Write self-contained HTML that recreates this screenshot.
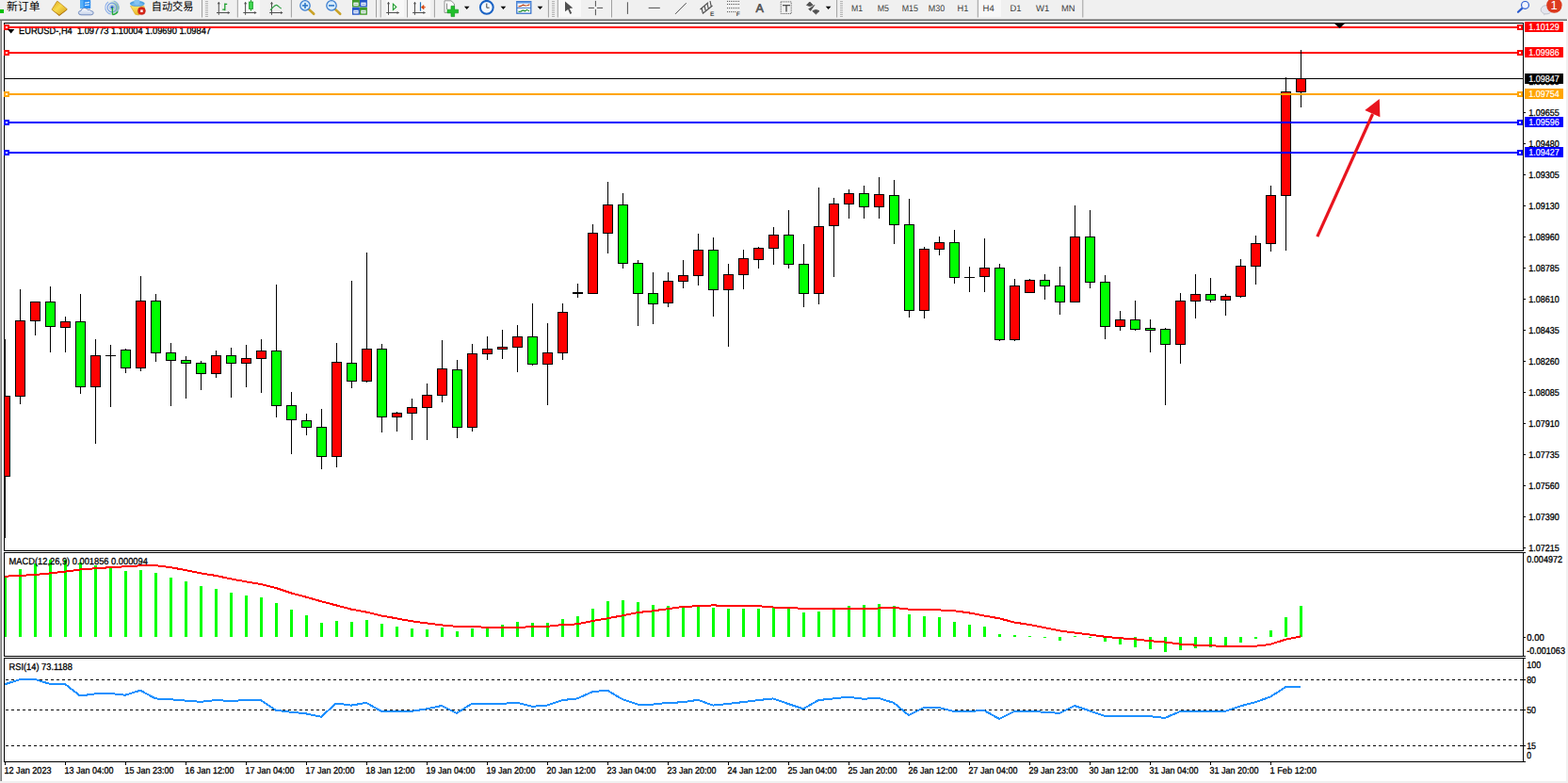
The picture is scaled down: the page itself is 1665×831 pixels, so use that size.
<!DOCTYPE html>
<html><head><meta charset="utf-8"><title>EURUSD H4</title>
<style>
html,body{margin:0;padding:0;background:#fff;}
body{width:1665px;height:831px;overflow:hidden;position:relative;font-family:"Liberation Sans",sans-serif;}
</style></head><body>
<svg width="1665" height="831" viewBox="0 0 1665 831" style="display:block;position:absolute;left:0;top:0" shape-rendering="crispEdges" text-rendering="geometricPrecision" font-family="Liberation Sans, sans-serif">
<rect x="0" y="0" width="1665" height="831" fill="#ffffff"/>
<g id="toolbar">
<rect x="0" y="0" width="1665" height="20" fill="#f0f0f0"/>
<g id="tb" shape-rendering="geometricPrecision">
<rect x="253" y="0" width="23" height="18" fill="#f8f8f8"/>
<rect x="410" y="0" width="19" height="18" fill="#f8f8f8"/>
<rect x="434" y="0" width="23" height="18" fill="#f8f8f8"/>
<rect x="593" y="0" width="24" height="18" fill="#f8f8f8"/>
<rect x="1040" y="0" width="23" height="18" fill="#f8f8f8"/>
<rect x="214.0" y="0" width="1" height="18.5" fill="#a0a0a0"/>
<rect x="251.8" y="0" width="1" height="18.5" fill="#a0a0a0"/>
<rect x="308.9" y="0" width="1" height="18.5" fill="#a0a0a0"/>
<rect x="399.0" y="0" width="1" height="18.5" fill="#a0a0a0"/>
<rect x="403.7" y="0" width="1" height="18.5" fill="#a0a0a0"/>
<rect x="432.0" y="0" width="1" height="18.5" fill="#a0a0a0"/>
<rect x="460.9" y="0" width="1" height="18.5" fill="#a0a0a0"/>
<rect x="581.9" y="0" width="1" height="18.5" fill="#a0a0a0"/>
<rect x="591.8" y="0" width="1" height="18.5" fill="#a0a0a0"/>
<rect x="649.0" y="0" width="1" height="18.5" fill="#a0a0a0"/>
<rect x="888.1" y="0" width="1" height="18.5" fill="#a0a0a0"/>
<rect x="1037.8" y="0" width="1" height="18.5" fill="#a0a0a0"/>
<rect x="1149.3" y="0" width="1" height="18.5" fill="#a0a0a0"/>
<rect x="218" y="1" width="3" height="1" fill="#b4b4b4"/>
<rect x="218" y="3" width="3" height="1" fill="#b4b4b4"/>
<rect x="218" y="5" width="3" height="1" fill="#b4b4b4"/>
<rect x="218" y="7" width="3" height="1" fill="#b4b4b4"/>
<rect x="218" y="9" width="3" height="1" fill="#b4b4b4"/>
<rect x="218" y="11" width="3" height="1" fill="#b4b4b4"/>
<rect x="218" y="13" width="3" height="1" fill="#b4b4b4"/>
<rect x="218" y="15" width="3" height="1" fill="#b4b4b4"/>
<rect x="218" y="17" width="3" height="1" fill="#b4b4b4"/>
<rect x="586" y="1" width="3" height="1" fill="#b4b4b4"/>
<rect x="586" y="3" width="3" height="1" fill="#b4b4b4"/>
<rect x="586" y="5" width="3" height="1" fill="#b4b4b4"/>
<rect x="586" y="7" width="3" height="1" fill="#b4b4b4"/>
<rect x="586" y="9" width="3" height="1" fill="#b4b4b4"/>
<rect x="586" y="11" width="3" height="1" fill="#b4b4b4"/>
<rect x="586" y="13" width="3" height="1" fill="#b4b4b4"/>
<rect x="586" y="15" width="3" height="1" fill="#b4b4b4"/>
<rect x="586" y="17" width="3" height="1" fill="#b4b4b4"/>
<rect x="892" y="1" width="3" height="1" fill="#b4b4b4"/>
<rect x="892" y="3" width="3" height="1" fill="#b4b4b4"/>
<rect x="892" y="5" width="3" height="1" fill="#b4b4b4"/>
<rect x="892" y="7" width="3" height="1" fill="#b4b4b4"/>
<rect x="892" y="9" width="3" height="1" fill="#b4b4b4"/>
<rect x="892" y="11" width="3" height="1" fill="#b4b4b4"/>
<rect x="892" y="13" width="3" height="1" fill="#b4b4b4"/>
<rect x="892" y="15" width="3" height="1" fill="#b4b4b4"/>
<rect x="892" y="17" width="3" height="1" fill="#b4b4b4"/>
<rect x="0" y="10" width="4" height="4" fill="#00c000"/>
<defs><linearGradient id="gb" x1="0" y1="0" x2="1" y2="1"><stop offset="0" stop-color="#d9a21c"/><stop offset=".45" stop-color="#f8da4c"/><stop offset="1" stop-color="#d29a1a"/></linearGradient><linearGradient id="cl" x1="0" y1="0" x2="0" y2="1"><stop offset="0" stop-color="#ffffff"/><stop offset="1" stop-color="#c4d0e8"/></linearGradient><linearGradient id="rg" x1="0" y1="0" x2="1" y2="0"><stop offset="0" stop-color="#ffffff" stop-opacity="0"/><stop offset=".5" stop-color="#9ad0a0" stop-opacity=".25"/><stop offset="1" stop-color="#4aa858" stop-opacity=".75"/></linearGradient><linearGradient id="yb" x1="0" y1="0" x2="0" y2="1"><stop offset="0" stop-color="#fbe66a"/><stop offset="1" stop-color="#e8b422"/></linearGradient></defs>
<text x="7" y="11.4" font-family="'Liberation Sans', 'Noto Sans CJK SC', sans-serif" font-size="12" fill="#000" textLength="35.6" lengthAdjust="spacingAndGlyphs">新订单</text><text x="160.8" y="11.4" font-family="'Liberation Sans', 'Noto Sans CJK SC', sans-serif" font-size="12" fill="#000" textLength="44.6" lengthAdjust="spacingAndGlyphs">自动交易</text>
<path d="M55 10.2L62.9 17L71.3 10.6L71.1 9.2L62.9 15.2z" fill="#a66a12"/><path d="M55.1 9.9L60.4 1.5Q60.8 1 61.4 1.5L71 9.4Q71.4 9.9 70.9 10.3L63.3 15.7Q62.8 16 62.3 15.6L55.3 10.5Q54.9 10.2 55.1 9.9z" fill="url(#gb)" stroke="#b8800f" stroke-width=".7"/>
<path d="M85 .2L90 -1L96.2 .2V9H85z" fill="#2b8df0"/><path d="M85 .2H88.6V9H85z" fill="#58b0f8"/><path d="M90 2.4l5-.6v1.3l-5 .6zM90 5l5-.6v1.2l-5 .6z" fill="#d8ecfd"/>
<path d="M86 15.8Q83.2 15.6 83.4 13.4Q83.6 11.4 86 11.5Q86.6 8.6 89.6 8.4Q92.2 8.4 93 10.4Q95.4 9.4 96.6 11.6Q99.4 11.8 99.2 13.8Q99 15.8 96.6 15.8z" fill="url(#cl)" stroke="#5a78b4" stroke-width=".8"/>
<circle cx="119" cy="8" r="7.6" fill="url(#rg)"/><g fill="none"><circle cx="119" cy="8" r="7.2" stroke="#8eb0ea" stroke-width="1" stroke-dasharray="17 6" transform="rotate(100 119 8)"/><circle cx="119" cy="8" r="4.9" stroke="#6e98e4" stroke-width="1.1"/><circle cx="119" cy="8" r="2.7" stroke="#9dbbee" stroke-width=".9"/></g><circle cx="119" cy="7.8" r="1.6" fill="#2356c8"/><path d="M119.4 8V15.6" fill="none" stroke="#22a83a" stroke-width="1.3"/><path d="M119.4 15.6A7.6 7.6 0 0 0 125.2 12.4" fill="none" stroke="#22a83a" stroke-width="1.3"/>
<path d="M138.5 6.4H153L153.6 10.8L147.2 16L143.6 15.2z" fill="url(#yb)" stroke="#d6a21c" stroke-width=".6"/><ellipse cx="145.8" cy="3.8" rx="7.9" ry="3" fill="#4fa2e2"/><ellipse cx="145.4" cy="1.8" rx="3.2" ry="2.6" fill="#86c4f2"/><ellipse cx="145.8" cy="4.6" rx="6" ry="1.4" fill="#8cc8f4" opacity=".7"/><circle cx="150.4" cy="11.6" r="4" fill="#d6261a"/><circle cx="150.4" cy="11.6" r="4" fill="none" stroke="#b81c12" stroke-width=".5"/><rect x="149.2" y="10.4" width="2.5" height="2.5" fill="#fff"/>
<path d="M232.3 2.3V15.8M230.0 13.5H243.8" stroke="#505050" stroke-width="1" fill="none"/>
<path d="M230.70000000000002 4.3L232.3 1.9999999999999998L233.9 4.3zM241.8 11.9L244.3 13.5L241.8 15.1z" fill="#505050"/>
<path d="M238.8 3.6V11.3M236.2 10.2H238.8M238.8 4.4H241.2" stroke="#1e9e2e" stroke-width="1.3" fill="none"/>
<path d="M260.6 2.3V15.8M258.3 13.5H272.1" stroke="#505050" stroke-width="1" fill="none"/>
<path d="M259.0 4.3L260.6 1.9999999999999998L262.20000000000005 4.3zM270.1 11.9L272.6 13.5L270.1 15.1z" fill="#505050"/>
<path d="M266.5 0V11.7" stroke="#1e9e2e" stroke-width="1"/><rect x="264.4" y="2" width="4.2" height="7.4" fill="#3fd64f" stroke="#1e9e2e" stroke-width=".8"/>
<path d="M288.5 2.3V15.8M286.2 13.5H300.0" stroke="#505050" stroke-width="1" fill="none"/>
<path d="M286.9 4.3L288.5 1.9999999999999998L290.1 4.3zM298.0 11.9L300.5 13.5L298.0 15.1z" fill="#505050"/>
<path d="M287 10.8C290 8 291.5 5.2 293.4 5.4S296.5 8 298.8 9" stroke="#2ea043" stroke-width="1.2" fill="none"/>
<path d="M328 9.9L333.2 14.8" stroke="#c9a227" stroke-width="2.6" stroke-linecap="round"/>
<circle cx="324" cy="5.9" r="5.2" fill="#d8ecfb" stroke="#3d7fd0" stroke-width="1.3"/>
<path d="M321 5.9H327" stroke="#2f78c8" stroke-width="1.6"/>
<path d="M324 2.9V8.9" stroke="#2f78c8" stroke-width="1.6"/>
<path d="M356 9.9L361.2 14.8" stroke="#c9a227" stroke-width="2.6" stroke-linecap="round"/>
<circle cx="352" cy="5.9" r="5.2" fill="#d8ecfb" stroke="#3d7fd0" stroke-width="1.3"/>
<path d="M349 5.9H355" stroke="#2f78c8" stroke-width="1.6"/>
<rect x="374" y="-0.4" width="7.9" height="8" rx=".6" fill="#3f9a2a"/><rect x="375.3" y="2.6" width="5.3" height="3.6" fill="#eef3fb"/><rect x="376.2" y="4.0" width="3.5" height=".9" fill="#3f9a2a" opacity=".55"/>
<rect x="382" y="-0.4" width="7.9" height="8" rx=".6" fill="#2456c8"/><rect x="383.3" y="2.6" width="5.3" height="3.6" fill="#eef3fb"/><rect x="384.2" y="4.0" width="3.5" height=".9" fill="#2456c8" opacity=".55"/>
<rect x="374" y="7.8" width="7.9" height="8" rx=".6" fill="#2456c8"/><rect x="375.3" y="10.8" width="5.3" height="3.6" fill="#eef3fb"/><rect x="376.2" y="12.2" width="3.5" height=".9" fill="#2456c8" opacity=".55"/>
<rect x="382" y="7.8" width="7.9" height="8" rx=".6" fill="#3f9a2a"/><rect x="383.3" y="10.8" width="5.3" height="3.6" fill="#eef3fb"/><rect x="384.2" y="12.2" width="3.5" height=".9" fill="#3f9a2a" opacity=".55"/>
<path d="M412.5 2.3V15.8M410.2 13.5H423.5" stroke="#505050" stroke-width="1" fill="none"/>
<path d="M410.9 4.3L412.5 1.9999999999999998L414.1 4.3zM421.5 11.9L424.0 13.5L421.5 15.1z" fill="#505050"/>
<path d="M417.4 4.2L420.8 7.4L417.4 10.6z" fill="none" stroke="#1e9e2e" stroke-width="1.1"/>
<path d="M440.5 2.3V15.8M438.2 13.5H451.4" stroke="#505050" stroke-width="1" fill="none"/>
<path d="M438.9 4.3L440.5 1.9999999999999998L442.1 4.3zM449.4 11.9L451.9 13.5L449.4 15.1z" fill="#505050"/>
<path d="M446.5 2.3V11.7" stroke="#1f6fb8" stroke-width="1.2"/><path d="M447.4 7.7L450 5.6V9.8zM450 7.7H452" fill="#d8480f" stroke="#d8480f" stroke-width=".8"/>
<path d="M472 .8H479L482.4 4V13.4H472z" fill="#fafafa" stroke="#8a8a8a" stroke-width=".9"/><path d="M474.5 3.6v6.4" stroke="#777" stroke-width=".9"/>
<path d="M479 6.4h3.6v3.8h4v3.6h-4v3.8H479v-3.8h-4v-3.6h4z" fill="#21c02c" stroke="#139a1d" stroke-width=".7"/>
<path d="M492.9 6.8h5.6l-2.8 3.1z" fill="#000"/>
<path d="M531.6 6.8h5.6l-2.8 3.1z" fill="#000"/>
<path d="M570.7 6.8h5.6l-2.8 3.1z" fill="#000"/>
<path d="M876.8 6.8h5.6l-2.8 3.1z" fill="#000"/>
<circle cx="516.8" cy="7.8" r="6.9" fill="#f4f8fd" stroke="#1a62c4" stroke-width="2"/><path d="M516.8 3.6V8.2H519.6" stroke="#444" stroke-width="1" fill="none"/><rect x="515.3" y="0" width="3" height="1.2" fill="#1a62c4"/>
<rect x="548.8" y="1.6" width="15" height="12.6" fill="#fdfdfd" stroke="#2a69c9" stroke-width="1.2"/><rect x="548.8" y="1.6" width="15" height="2" fill="#5c96e4"/><path d="M549 8.4H563.6" stroke="#2a69c9" stroke-width=".9"/><path d="M550.5 7l2.5-.6 2.5-1.2 2.2.8 2.4-.2 2.4-1" stroke="#b5380e" stroke-width="1.1" fill="none"/><path d="M550.5 12.4l2.6-.3 2.2-1.2 2.2.9 2-1.5 2.6 1.6" stroke="#1c8f2c" stroke-width="1.1" fill="none"/>
<path d="M600 1.4V12.2L603.2 9.9L605.4 14.9L607.2 14L604.7 9.1L608.3 8.6z" fill="#505050"/>
<path d="M632.4 .9V6.9M632.4 9.9V16.2M624.8 8.4H630.9M633.9 8.4H640.1" stroke="#505050" stroke-width="1"/>
<path d="M666.4 2.3V14.9M688.7 8.4H700.8M717 14.9L728.7 3.2" stroke="#505050" stroke-width="1"/>
<path d="M743.5 10L752 2.6M746 14.5L756.5 6M745 8.5l1.2 5M748 6l1.2 5M751 3.8l1.2 5M754 1l1.2 5.6" stroke="#505050" stroke-width="1.15" fill="none"/>
<text x="754" y="16.8" font-family="Liberation Sans, sans-serif" font-size="6.6" font-weight="bold" fill="#505050">E</text>
<path d="M772 1.4H785" stroke="#505050" stroke-width="1" stroke-dasharray="1 1"/>
<path d="M772 4.5H785" stroke="#505050" stroke-width="1" stroke-dasharray="1 1"/>
<path d="M772 8.6H785" stroke="#505050" stroke-width="1" stroke-dasharray="1 1"/>
<path d="M772 12.6H781" stroke="#505050" stroke-width="1" stroke-dasharray="1 1"/>
<text x="781.8" y="16.8" font-family="Liberation Sans, sans-serif" font-size="6.6" font-weight="bold" fill="#505050">F</text>
<text x="802.6" y="13" font-family="Liberation Sans, sans-serif" font-size="12.6" fill="#505050" stroke="#505050" stroke-width=".6">A</text>
<rect x="829.2" y="1.9" width="11" height="12.6" fill="none" stroke="#505050" stroke-width="1" stroke-dasharray="1 1"/><path d="M831 5.6H839M835 5.6V12.6" stroke="#505050" stroke-width="1.4"/>
<path d="M856.5 5.4L859.8 2L863.2 5.4L859.8 6.6zM862.8 11.6L866.4 10.4L870 11.6L866.4 15zM858.6 9.2L860.6 11.4L865 5.2" fill="#505050" stroke="#505050" stroke-width=".9" stroke-linejoin="round"/>
<text x="903.9" y="11.8" font-family="Liberation Sans, sans-serif" font-size="9.6" fill="#3c3c3c" textLength="12.1" lengthAdjust="spacingAndGlyphs">M1</text>
<text x="931.8" y="11.8" font-family="Liberation Sans, sans-serif" font-size="9.6" fill="#3c3c3c" textLength="12.2" lengthAdjust="spacingAndGlyphs">M5</text>
<text x="957.7" y="11.8" font-family="Liberation Sans, sans-serif" font-size="9.6" fill="#3c3c3c" textLength="17.3" lengthAdjust="spacingAndGlyphs">M15</text>
<text x="985.8" y="11.8" font-family="Liberation Sans, sans-serif" font-size="9.6" fill="#3c3c3c" textLength="17.5" lengthAdjust="spacingAndGlyphs">M30</text>
<text x="1016.5" y="11.8" font-family="Liberation Sans, sans-serif" font-size="9.6" fill="#3c3c3c" textLength="11.9" lengthAdjust="spacingAndGlyphs">H1</text>
<text x="1043.6" y="11.8" font-family="Liberation Sans, sans-serif" font-size="9.6" fill="#3c3c3c" textLength="12.2" lengthAdjust="spacingAndGlyphs">H4</text>
<text x="1072.5" y="11.8" font-family="Liberation Sans, sans-serif" font-size="9.6" fill="#3c3c3c" textLength="12.0" lengthAdjust="spacingAndGlyphs">D1</text>
<text x="1100.1" y="11.8" font-family="Liberation Sans, sans-serif" font-size="9.6" fill="#3c3c3c" textLength="14.3" lengthAdjust="spacingAndGlyphs">W1</text>
<text x="1127" y="11.8" font-family="Liberation Sans, sans-serif" font-size="9.6" fill="#3c3c3c" textLength="14.6" lengthAdjust="spacingAndGlyphs">MN</text>
<path d="M1616.8 8.4L1612 12.8" stroke="#2a5bd0" stroke-width="2.2" stroke-linecap="round"/><circle cx="1619.5" cy="5.4" r="3.9" fill="#f2f4fe" stroke="#2a5bd0" stroke-width="1.2"/>
<ellipse cx="1642" cy="10.3" rx="5.8" ry="4.6" fill="#e4e6ee" stroke="#b9bcc6" stroke-width=".9"/><path d="M1639.6 14l-.6 2.6 3-2.2z" fill="#c9ccd4"/>
<circle cx="1650.4" cy="5.6" r="8.2" fill="#dc3a1f"/>
<text x="1646.4" y="10.2" font-family="Liberation Sans, sans-serif" font-size="13" fill="#fff">1</text>
</g>
<rect x="0" y="20" width="1664" height="1" fill="#a6a6a6"/>
<rect x="0" y="21" width="1664" height="1" fill="#6a6a6a"/>
</g>
<rect x="0" y="22" width="1" height="807" fill="#a8a8a8"/>
<rect x="1" y="22" width="1" height="807" fill="#7c7c7c"/>
<rect x="1663" y="22" width="2" height="809" fill="#f1f1f1"/>
<rect x="0" y="829" width="1665" height="2" fill="#f0f0f0"/>
<g id="main">
<rect x="4" y="24" width="1614" height="1" fill="#000"/>
<rect x="4" y="24" width="1" height="561" fill="#000"/>
<rect x="1617" y="24" width="1" height="561" fill="#000"/>
<rect x="4" y="584" width="1614" height="1" fill="#000"/>
<text x="20" y="36" font-size="10" fill="#000" stroke="#000" stroke-width="0.3" textLength="204" lengthAdjust="spacingAndGlyphs" xml:space="preserve">EURUSD-,H4  1.09773 1.10004 1.09690 1.09847</text>
<rect x="5" y="28" width="1612" height="2" fill="#ff0000"/>
<rect x="5" y="55" width="1612" height="2" fill="#ff0000"/>
<rect x="5" y="83" width="1612" height="1" fill="#000"/>
<rect x="5" y="360" width="1" height="211" fill="#000"/>
<rect x="5" y="420" width="6" height="86" fill="#000"/>
<rect x="5" y="421" width="5" height="84" fill="#ff0000"/>
<rect x="21" y="307" width="1" height="122" fill="#000"/>
<rect x="16" y="340" width="11" height="81" fill="#000"/>
<rect x="17" y="341" width="9" height="79" fill="#ff0000"/>
<rect x="37" y="320" width="1" height="36" fill="#000"/>
<rect x="32" y="320" width="11" height="21" fill="#000"/>
<rect x="33" y="321" width="9" height="19" fill="#ff0000"/>
<rect x="53" y="304" width="1" height="70" fill="#000"/>
<rect x="48" y="320" width="11" height="27" fill="#000"/>
<rect x="49" y="321" width="9" height="25" fill="#00ff00"/>
<rect x="69" y="336" width="1" height="38" fill="#000"/>
<rect x="64" y="341" width="11" height="7" fill="#000"/>
<rect x="65" y="342" width="9" height="5" fill="#ff0000"/>
<rect x="85" y="312" width="1" height="106" fill="#000"/>
<rect x="80" y="341" width="11" height="70" fill="#000"/>
<rect x="81" y="342" width="9" height="68" fill="#00ff00"/>
<rect x="101" y="360" width="1" height="111" fill="#000"/>
<rect x="96" y="377" width="11" height="34" fill="#000"/>
<rect x="97" y="378" width="9" height="32" fill="#ff0000"/>
<rect x="117" y="366" width="1" height="66" fill="#000"/>
<rect x="112" y="377" width="11" height="1" fill="#000"/>
<rect x="133" y="370" width="1" height="26" fill="#000"/>
<rect x="128" y="371" width="11" height="20" fill="#000"/>
<rect x="129" y="372" width="9" height="18" fill="#00ff00"/>
<rect x="149" y="293" width="1" height="101" fill="#000"/>
<rect x="144" y="319" width="11" height="72" fill="#000"/>
<rect x="145" y="320" width="9" height="70" fill="#ff0000"/>
<rect x="165" y="312" width="1" height="72" fill="#000"/>
<rect x="160" y="319" width="11" height="56" fill="#000"/>
<rect x="161" y="320" width="9" height="54" fill="#00ff00"/>
<rect x="181" y="364" width="1" height="67" fill="#000"/>
<rect x="176" y="374" width="11" height="9" fill="#000"/>
<rect x="177" y="375" width="9" height="7" fill="#00ff00"/>
<rect x="197" y="378" width="1" height="45" fill="#000"/>
<rect x="192" y="382" width="11" height="4" fill="#000"/>
<rect x="193" y="383" width="9" height="2" fill="#00ff00"/>
<rect x="213" y="383" width="1" height="31" fill="#000"/>
<rect x="208" y="385" width="11" height="12" fill="#000"/>
<rect x="209" y="386" width="9" height="10" fill="#00ff00"/>
<rect x="229" y="372" width="1" height="29" fill="#000"/>
<rect x="224" y="377" width="11" height="20" fill="#000"/>
<rect x="225" y="378" width="9" height="18" fill="#ff0000"/>
<rect x="245" y="369" width="1" height="53" fill="#000"/>
<rect x="240" y="377" width="11" height="9" fill="#000"/>
<rect x="241" y="378" width="9" height="7" fill="#00ff00"/>
<rect x="261" y="366" width="1" height="45" fill="#000"/>
<rect x="256" y="380" width="11" height="6" fill="#000"/>
<rect x="257" y="381" width="9" height="4" fill="#ff0000"/>
<rect x="277" y="360" width="1" height="57" fill="#000"/>
<rect x="272" y="372" width="11" height="9" fill="#000"/>
<rect x="273" y="373" width="9" height="7" fill="#ff0000"/>
<rect x="293" y="302" width="1" height="141" fill="#000"/>
<rect x="288" y="372" width="11" height="59" fill="#000"/>
<rect x="289" y="373" width="9" height="57" fill="#00ff00"/>
<rect x="309" y="416" width="1" height="66" fill="#000"/>
<rect x="304" y="430" width="11" height="16" fill="#000"/>
<rect x="305" y="431" width="9" height="14" fill="#00ff00"/>
<rect x="325" y="439" width="1" height="23" fill="#000"/>
<rect x="320" y="446" width="11" height="8" fill="#000"/>
<rect x="321" y="447" width="9" height="6" fill="#00ff00"/>
<rect x="341" y="434" width="1" height="64" fill="#000"/>
<rect x="336" y="453" width="11" height="32" fill="#000"/>
<rect x="337" y="454" width="9" height="30" fill="#00ff00"/>
<rect x="357" y="364" width="1" height="132" fill="#000"/>
<rect x="352" y="384" width="11" height="101" fill="#000"/>
<rect x="353" y="385" width="9" height="99" fill="#ff0000"/>
<rect x="373" y="298" width="1" height="114" fill="#000"/>
<rect x="368" y="385" width="11" height="20" fill="#000"/>
<rect x="369" y="386" width="9" height="18" fill="#00ff00"/>
<rect x="389" y="268" width="1" height="138" fill="#000"/>
<rect x="384" y="370" width="11" height="35" fill="#000"/>
<rect x="385" y="371" width="9" height="33" fill="#ff0000"/>
<rect x="405" y="365" width="1" height="94" fill="#000"/>
<rect x="400" y="370" width="11" height="73" fill="#000"/>
<rect x="401" y="371" width="9" height="71" fill="#00ff00"/>
<rect x="421" y="437" width="1" height="21" fill="#000"/>
<rect x="416" y="438" width="11" height="5" fill="#000"/>
<rect x="417" y="439" width="9" height="3" fill="#ff0000"/>
<rect x="437" y="423" width="1" height="44" fill="#000"/>
<rect x="432" y="432" width="11" height="7" fill="#000"/>
<rect x="433" y="433" width="9" height="5" fill="#ff0000"/>
<rect x="453" y="407" width="1" height="60" fill="#000"/>
<rect x="448" y="419" width="11" height="14" fill="#000"/>
<rect x="449" y="420" width="9" height="12" fill="#ff0000"/>
<rect x="469" y="361" width="1" height="66" fill="#000"/>
<rect x="464" y="391" width="11" height="29" fill="#000"/>
<rect x="465" y="392" width="9" height="27" fill="#ff0000"/>
<rect x="485" y="382" width="1" height="83" fill="#000"/>
<rect x="480" y="392" width="11" height="62" fill="#000"/>
<rect x="481" y="393" width="9" height="60" fill="#00ff00"/>
<rect x="501" y="365" width="1" height="93" fill="#000"/>
<rect x="496" y="375" width="11" height="79" fill="#000"/>
<rect x="497" y="376" width="9" height="77" fill="#ff0000"/>
<rect x="517" y="357" width="1" height="25" fill="#000"/>
<rect x="512" y="370" width="11" height="6" fill="#000"/>
<rect x="513" y="371" width="9" height="4" fill="#ff0000"/>
<rect x="533" y="350" width="1" height="31" fill="#000"/>
<rect x="528" y="368" width="11" height="3" fill="#000"/>
<rect x="529" y="369" width="9" height="1" fill="#ff0000"/>
<rect x="549" y="345" width="1" height="50" fill="#000"/>
<rect x="544" y="357" width="11" height="12" fill="#000"/>
<rect x="545" y="358" width="9" height="10" fill="#ff0000"/>
<rect x="565" y="322" width="1" height="66" fill="#000"/>
<rect x="560" y="357" width="11" height="30" fill="#000"/>
<rect x="561" y="358" width="9" height="28" fill="#00ff00"/>
<rect x="581" y="343" width="1" height="87" fill="#000"/>
<rect x="576" y="374" width="11" height="13" fill="#000"/>
<rect x="577" y="375" width="9" height="11" fill="#ff0000"/>
<rect x="597" y="322" width="1" height="60" fill="#000"/>
<rect x="592" y="331" width="11" height="44" fill="#000"/>
<rect x="593" y="332" width="9" height="42" fill="#ff0000"/>
<rect x="613" y="301" width="1" height="15" fill="#000"/>
<rect x="608" y="310" width="11" height="2" fill="#000"/>
<rect x="629" y="238" width="1" height="74" fill="#000"/>
<rect x="624" y="247" width="11" height="65" fill="#000"/>
<rect x="625" y="248" width="9" height="63" fill="#ff0000"/>
<rect x="645" y="193" width="1" height="76" fill="#000"/>
<rect x="640" y="217" width="11" height="31" fill="#000"/>
<rect x="641" y="218" width="9" height="29" fill="#ff0000"/>
<rect x="661" y="205" width="1" height="80" fill="#000"/>
<rect x="656" y="217" width="11" height="63" fill="#000"/>
<rect x="657" y="218" width="9" height="61" fill="#00ff00"/>
<rect x="677" y="276" width="1" height="70" fill="#000"/>
<rect x="672" y="279" width="11" height="33" fill="#000"/>
<rect x="673" y="280" width="9" height="31" fill="#00ff00"/>
<rect x="693" y="289" width="1" height="55" fill="#000"/>
<rect x="688" y="311" width="11" height="12" fill="#000"/>
<rect x="689" y="312" width="9" height="10" fill="#00ff00"/>
<rect x="709" y="289" width="1" height="37" fill="#000"/>
<rect x="704" y="298" width="11" height="24" fill="#000"/>
<rect x="705" y="299" width="9" height="22" fill="#ff0000"/>
<rect x="725" y="276" width="1" height="30" fill="#000"/>
<rect x="720" y="292" width="11" height="7" fill="#000"/>
<rect x="721" y="293" width="9" height="5" fill="#ff0000"/>
<rect x="741" y="248" width="1" height="55" fill="#000"/>
<rect x="736" y="265" width="11" height="28" fill="#000"/>
<rect x="737" y="266" width="9" height="26" fill="#ff0000"/>
<rect x="757" y="252" width="1" height="84" fill="#000"/>
<rect x="752" y="265" width="11" height="43" fill="#000"/>
<rect x="753" y="266" width="9" height="41" fill="#00ff00"/>
<rect x="773" y="280" width="1" height="88" fill="#000"/>
<rect x="768" y="291" width="11" height="17" fill="#000"/>
<rect x="769" y="292" width="9" height="15" fill="#ff0000"/>
<rect x="789" y="265" width="1" height="42" fill="#000"/>
<rect x="784" y="274" width="11" height="18" fill="#000"/>
<rect x="785" y="275" width="9" height="16" fill="#ff0000"/>
<rect x="805" y="262" width="1" height="23" fill="#000"/>
<rect x="800" y="263" width="11" height="13" fill="#000"/>
<rect x="801" y="264" width="9" height="11" fill="#ff0000"/>
<rect x="821" y="241" width="1" height="40" fill="#000"/>
<rect x="816" y="249" width="11" height="15" fill="#000"/>
<rect x="817" y="250" width="9" height="13" fill="#ff0000"/>
<rect x="837" y="223" width="1" height="62" fill="#000"/>
<rect x="832" y="249" width="11" height="32" fill="#000"/>
<rect x="833" y="250" width="9" height="30" fill="#00ff00"/>
<rect x="853" y="259" width="1" height="67" fill="#000"/>
<rect x="848" y="280" width="11" height="32" fill="#000"/>
<rect x="849" y="281" width="9" height="30" fill="#00ff00"/>
<rect x="869" y="199" width="1" height="124" fill="#000"/>
<rect x="864" y="240" width="11" height="72" fill="#000"/>
<rect x="865" y="241" width="9" height="70" fill="#ff0000"/>
<rect x="885" y="210" width="1" height="84" fill="#000"/>
<rect x="880" y="216" width="11" height="24" fill="#000"/>
<rect x="881" y="217" width="9" height="22" fill="#ff0000"/>
<rect x="901" y="201" width="1" height="31" fill="#000"/>
<rect x="896" y="205" width="11" height="12" fill="#000"/>
<rect x="897" y="206" width="9" height="10" fill="#ff0000"/>
<rect x="917" y="197" width="1" height="35" fill="#000"/>
<rect x="912" y="205" width="11" height="15" fill="#000"/>
<rect x="913" y="206" width="9" height="13" fill="#00ff00"/>
<rect x="933" y="188" width="1" height="44" fill="#000"/>
<rect x="928" y="206" width="11" height="14" fill="#000"/>
<rect x="929" y="207" width="9" height="12" fill="#ff0000"/>
<rect x="949" y="191" width="1" height="68" fill="#000"/>
<rect x="944" y="207" width="11" height="32" fill="#000"/>
<rect x="945" y="208" width="9" height="30" fill="#00ff00"/>
<rect x="965" y="211" width="1" height="126" fill="#000"/>
<rect x="960" y="238" width="11" height="92" fill="#000"/>
<rect x="961" y="239" width="9" height="90" fill="#00ff00"/>
<rect x="981" y="262" width="1" height="76" fill="#000"/>
<rect x="976" y="264" width="11" height="66" fill="#000"/>
<rect x="977" y="265" width="9" height="64" fill="#ff0000"/>
<rect x="997" y="251" width="1" height="20" fill="#000"/>
<rect x="992" y="257" width="11" height="8" fill="#000"/>
<rect x="993" y="258" width="9" height="6" fill="#ff0000"/>
<rect x="1013" y="244" width="1" height="57" fill="#000"/>
<rect x="1008" y="257" width="11" height="38" fill="#000"/>
<rect x="1009" y="258" width="9" height="36" fill="#00ff00"/>
<rect x="1029" y="283" width="1" height="27" fill="#000"/>
<rect x="1024" y="294" width="11" height="1" fill="#000"/>
<rect x="1045" y="253" width="1" height="57" fill="#000"/>
<rect x="1040" y="284" width="11" height="10" fill="#000"/>
<rect x="1041" y="285" width="9" height="8" fill="#ff0000"/>
<rect x="1061" y="280" width="1" height="82" fill="#000"/>
<rect x="1056" y="284" width="11" height="77" fill="#000"/>
<rect x="1057" y="285" width="9" height="75" fill="#00ff00"/>
<rect x="1077" y="296" width="1" height="66" fill="#000"/>
<rect x="1072" y="303" width="11" height="58" fill="#000"/>
<rect x="1073" y="304" width="9" height="56" fill="#ff0000"/>
<rect x="1093" y="296" width="1" height="15" fill="#000"/>
<rect x="1088" y="297" width="11" height="14" fill="#000"/>
<rect x="1089" y="298" width="9" height="12" fill="#ff0000"/>
<rect x="1109" y="291" width="1" height="27" fill="#000"/>
<rect x="1104" y="297" width="11" height="7" fill="#000"/>
<rect x="1105" y="298" width="9" height="5" fill="#00ff00"/>
<rect x="1125" y="283" width="1" height="51" fill="#000"/>
<rect x="1120" y="303" width="11" height="18" fill="#000"/>
<rect x="1121" y="304" width="9" height="16" fill="#00ff00"/>
<rect x="1141" y="218" width="1" height="103" fill="#000"/>
<rect x="1136" y="251" width="11" height="70" fill="#000"/>
<rect x="1137" y="252" width="9" height="68" fill="#ff0000"/>
<rect x="1157" y="223" width="1" height="83" fill="#000"/>
<rect x="1152" y="251" width="11" height="49" fill="#000"/>
<rect x="1153" y="252" width="9" height="47" fill="#00ff00"/>
<rect x="1173" y="292" width="1" height="68" fill="#000"/>
<rect x="1168" y="299" width="11" height="48" fill="#000"/>
<rect x="1169" y="300" width="9" height="46" fill="#00ff00"/>
<rect x="1189" y="330" width="1" height="21" fill="#000"/>
<rect x="1184" y="339" width="11" height="8" fill="#000"/>
<rect x="1185" y="340" width="9" height="6" fill="#ff0000"/>
<rect x="1205" y="319" width="1" height="32" fill="#000"/>
<rect x="1200" y="339" width="11" height="11" fill="#000"/>
<rect x="1201" y="340" width="9" height="9" fill="#00ff00"/>
<rect x="1221" y="339" width="1" height="35" fill="#000"/>
<rect x="1216" y="348" width="11" height="3" fill="#000"/>
<rect x="1217" y="349" width="9" height="1" fill="#00ff00"/>
<rect x="1237" y="348" width="1" height="82" fill="#000"/>
<rect x="1232" y="349" width="11" height="17" fill="#000"/>
<rect x="1233" y="350" width="9" height="15" fill="#00ff00"/>
<rect x="1253" y="311" width="1" height="75" fill="#000"/>
<rect x="1248" y="319" width="11" height="47" fill="#000"/>
<rect x="1249" y="320" width="9" height="45" fill="#ff0000"/>
<rect x="1269" y="291" width="1" height="47" fill="#000"/>
<rect x="1264" y="312" width="11" height="8" fill="#000"/>
<rect x="1265" y="313" width="9" height="6" fill="#ff0000"/>
<rect x="1285" y="295" width="1" height="26" fill="#000"/>
<rect x="1280" y="312" width="11" height="7" fill="#000"/>
<rect x="1281" y="313" width="9" height="5" fill="#00ff00"/>
<rect x="1301" y="312" width="1" height="23" fill="#000"/>
<rect x="1296" y="314" width="11" height="5" fill="#000"/>
<rect x="1297" y="315" width="9" height="3" fill="#ff0000"/>
<rect x="1317" y="275" width="1" height="41" fill="#000"/>
<rect x="1312" y="282" width="11" height="33" fill="#000"/>
<rect x="1313" y="283" width="9" height="31" fill="#ff0000"/>
<rect x="1333" y="250" width="1" height="52" fill="#000"/>
<rect x="1328" y="258" width="11" height="25" fill="#000"/>
<rect x="1329" y="259" width="9" height="23" fill="#ff0000"/>
<rect x="1349" y="197" width="1" height="70" fill="#000"/>
<rect x="1344" y="207" width="11" height="52" fill="#000"/>
<rect x="1345" y="208" width="9" height="50" fill="#ff0000"/>
<rect x="1365" y="82" width="1" height="184" fill="#000"/>
<rect x="1360" y="97" width="11" height="111" fill="#000"/>
<rect x="1361" y="98" width="9" height="109" fill="#ff0000"/>
<rect x="1381" y="53" width="1" height="61" fill="#000"/>
<rect x="1376" y="83" width="11" height="15" fill="#000"/>
<rect x="1377" y="84" width="9" height="13" fill="#ff0000"/>
<rect x="5" y="99" width="1612" height="2" fill="#ffa500"/>
<rect x="5" y="129" width="1612" height="2" fill="#0000ff"/>
<rect x="5" y="161" width="1612" height="2" fill="#0000ff"/>
<rect x="4" y="26" width="6" height="6" fill="#ff0000"/>
<rect x="6" y="28" width="2" height="2" fill="#fff"/>
<rect x="1611" y="26" width="6" height="6" fill="#ff0000"/>
<rect x="1613" y="28" width="2" height="2" fill="#fff"/>
<rect x="4" y="53" width="6" height="6" fill="#ff0000"/>
<rect x="6" y="55" width="2" height="2" fill="#fff"/>
<rect x="1611" y="53" width="6" height="6" fill="#ff0000"/>
<rect x="1613" y="55" width="2" height="2" fill="#fff"/>
<rect x="4" y="97" width="6" height="6" fill="#ffa500"/>
<rect x="6" y="99" width="2" height="2" fill="#fff"/>
<rect x="1611" y="97" width="6" height="6" fill="#ffa500"/>
<rect x="1613" y="99" width="2" height="2" fill="#fff"/>
<rect x="4" y="127" width="6" height="6" fill="#0000ff"/>
<rect x="6" y="129" width="2" height="2" fill="#fff"/>
<rect x="1611" y="127" width="6" height="6" fill="#0000ff"/>
<rect x="1613" y="129" width="2" height="2" fill="#fff"/>
<rect x="4" y="159" width="6" height="6" fill="#0000ff"/>
<rect x="6" y="161" width="2" height="2" fill="#fff"/>
<rect x="1611" y="159" width="6" height="6" fill="#0000ff"/>
<rect x="1613" y="161" width="2" height="2" fill="#fff"/>
<g shape-rendering="geometricPrecision" fill="#e8141e" stroke="none"><path d="M1398.8 251.2 L1457.6 121" stroke="#e8141e" stroke-width="3.2" stroke-linecap="butt"/><path d="M1464.8 105 L1449.3 116.9 L1465.4 124.2 z"/></g>
<path d="M8 31h7.4l-3.7 4.4z" fill="#000" shape-rendering="geometricPrecision"/>
<path d="M1417 25h11l-5.5 5z" fill="#000" shape-rendering="geometricPrecision"/>
</g>
<g id="paxis">
<rect x="1618" y="119" width="2" height="1" fill="#000"/>
<text x="1623.3" y="123.2" font-size="10" fill="#000" stroke="#000" stroke-width="0.3" textLength="32.5" lengthAdjust="spacingAndGlyphs">1.09655</text>
<rect x="1618" y="152" width="2" height="1" fill="#000"/>
<text x="1623.3" y="156.2" font-size="10" fill="#000" stroke="#000" stroke-width="0.3" textLength="32.5" lengthAdjust="spacingAndGlyphs">1.09480</text>
<rect x="1618" y="185" width="2" height="1" fill="#000"/>
<text x="1623.3" y="189.1" font-size="10" fill="#000" stroke="#000" stroke-width="0.3" textLength="32.5" lengthAdjust="spacingAndGlyphs">1.09305</text>
<rect x="1618" y="218" width="2" height="1" fill="#000"/>
<text x="1623.3" y="222.1" font-size="10" fill="#000" stroke="#000" stroke-width="0.3" textLength="32.5" lengthAdjust="spacingAndGlyphs">1.09130</text>
<rect x="1618" y="251" width="2" height="1" fill="#000"/>
<text x="1623.3" y="255" font-size="10" fill="#000" stroke="#000" stroke-width="0.3" textLength="32.5" lengthAdjust="spacingAndGlyphs">1.08960</text>
<rect x="1618" y="284" width="2" height="1" fill="#000"/>
<text x="1623.3" y="287.9" font-size="10" fill="#000" stroke="#000" stroke-width="0.3" textLength="32.5" lengthAdjust="spacingAndGlyphs">1.08785</text>
<rect x="1618" y="317" width="2" height="1" fill="#000"/>
<text x="1623.3" y="320.9" font-size="10" fill="#000" stroke="#000" stroke-width="0.3" textLength="32.5" lengthAdjust="spacingAndGlyphs">1.08610</text>
<rect x="1618" y="350" width="2" height="1" fill="#000"/>
<text x="1623.3" y="353.9" font-size="10" fill="#000" stroke="#000" stroke-width="0.3" textLength="32.5" lengthAdjust="spacingAndGlyphs">1.08435</text>
<rect x="1618" y="383" width="2" height="1" fill="#000"/>
<text x="1623.3" y="386.8" font-size="10" fill="#000" stroke="#000" stroke-width="0.3" textLength="32.5" lengthAdjust="spacingAndGlyphs">1.08260</text>
<rect x="1618" y="416" width="2" height="1" fill="#000"/>
<text x="1623.3" y="419.8" font-size="10" fill="#000" stroke="#000" stroke-width="0.3" textLength="32.5" lengthAdjust="spacingAndGlyphs">1.08085</text>
<rect x="1618" y="449" width="2" height="1" fill="#000"/>
<text x="1623.3" y="452.7" font-size="10" fill="#000" stroke="#000" stroke-width="0.3" textLength="32.5" lengthAdjust="spacingAndGlyphs">1.07910</text>
<rect x="1618" y="482" width="2" height="1" fill="#000"/>
<text x="1623.3" y="485.7" font-size="10" fill="#000" stroke="#000" stroke-width="0.3" textLength="32.5" lengthAdjust="spacingAndGlyphs">1.07735</text>
<rect x="1618" y="515" width="2" height="1" fill="#000"/>
<text x="1623.3" y="518.6" font-size="10" fill="#000" stroke="#000" stroke-width="0.3" textLength="32.5" lengthAdjust="spacingAndGlyphs">1.07560</text>
<rect x="1618" y="548" width="2" height="1" fill="#000"/>
<text x="1623.3" y="551.6" font-size="10" fill="#000" stroke="#000" stroke-width="0.3" textLength="32.5" lengthAdjust="spacingAndGlyphs">1.07390</text>
<rect x="1618" y="581" width="2" height="1" fill="#000"/>
<text x="1623.3" y="584.5" font-size="10" fill="#000" stroke="#000" stroke-width="0.3" textLength="32.5" lengthAdjust="spacingAndGlyphs">1.07215</text>
<text x="1623.3" y="90.2" font-size="10" fill="#000" stroke="#000" stroke-width="0.3" textLength="32.5" lengthAdjust="spacingAndGlyphs">1.09830</text>
<rect x="1619" y="23" width="41" height="11" fill="#ff0000"/>
<text x="1623.3" y="32" font-size="10" fill="#fff" stroke="#fff" stroke-width="0.2" textLength="32.5" lengthAdjust="spacingAndGlyphs">1.10129</text>
<rect x="1619" y="50" width="41" height="11" fill="#ff0000"/>
<text x="1623.3" y="59" font-size="10" fill="#fff" stroke="#fff" stroke-width="0.2" textLength="32.5" lengthAdjust="spacingAndGlyphs">1.09986</text>
<rect x="1619" y="78" width="41" height="11" fill="#000000"/>
<text x="1623.3" y="87" font-size="10" fill="#fff" stroke="#fff" stroke-width="0.2" textLength="32.5" lengthAdjust="spacingAndGlyphs">1.09847</text>
<rect x="1619" y="94" width="41" height="11" fill="#ffa500"/>
<text x="1623.3" y="103" font-size="10" fill="#fff" stroke="#fff" stroke-width="0.2" textLength="32.5" lengthAdjust="spacingAndGlyphs">1.09754</text>
<rect x="1619" y="124" width="41" height="11" fill="#0000ff"/>
<text x="1623.3" y="133" font-size="10" fill="#fff" stroke="#fff" stroke-width="0.2" textLength="32.5" lengthAdjust="spacingAndGlyphs">1.09596</text>
<rect x="1619" y="156" width="41" height="11" fill="#0000ff"/>
<text x="1623.3" y="165" font-size="10" fill="#fff" stroke="#fff" stroke-width="0.2" textLength="32.5" lengthAdjust="spacingAndGlyphs">1.09427</text>
</g>
<g id="macd">
<rect x="4" y="586" width="1616" height="1" fill="#000"/>
<rect x="4" y="586" width="1" height="111" fill="#000"/>
<rect x="1617" y="586" width="1" height="111" fill="#000"/>
<rect x="4" y="696" width="1616" height="1" fill="#000"/>
<rect x="5" y="612" width="2" height="64" fill="#00ff00"/>
<rect x="20" y="604" width="3" height="72" fill="#00ff00"/>
<rect x="36" y="598" width="3" height="78" fill="#00ff00"/>
<rect x="52" y="594" width="3" height="82" fill="#00ff00"/>
<rect x="68" y="594" width="3" height="82" fill="#00ff00"/>
<rect x="84" y="597" width="3" height="79" fill="#00ff00"/>
<rect x="100" y="600" width="3" height="76" fill="#00ff00"/>
<rect x="116" y="603" width="3" height="73" fill="#00ff00"/>
<rect x="132" y="606" width="3" height="70" fill="#00ff00"/>
<rect x="148" y="605" width="3" height="71" fill="#00ff00"/>
<rect x="164" y="608" width="3" height="68" fill="#00ff00"/>
<rect x="180" y="613" width="3" height="63" fill="#00ff00"/>
<rect x="196" y="617" width="3" height="59" fill="#00ff00"/>
<rect x="212" y="622" width="3" height="54" fill="#00ff00"/>
<rect x="228" y="625" width="3" height="51" fill="#00ff00"/>
<rect x="244" y="629" width="3" height="47" fill="#00ff00"/>
<rect x="260" y="632" width="3" height="44" fill="#00ff00"/>
<rect x="276" y="634" width="3" height="42" fill="#00ff00"/>
<rect x="292" y="640" width="3" height="36" fill="#00ff00"/>
<rect x="308" y="647" width="3" height="29" fill="#00ff00"/>
<rect x="324" y="653" width="3" height="23" fill="#00ff00"/>
<rect x="340" y="661" width="3" height="15" fill="#00ff00"/>
<rect x="356" y="659" width="3" height="17" fill="#00ff00"/>
<rect x="372" y="660" width="3" height="16" fill="#00ff00"/>
<rect x="388" y="658" width="3" height="18" fill="#00ff00"/>
<rect x="404" y="662" width="3" height="14" fill="#00ff00"/>
<rect x="420" y="665" width="3" height="11" fill="#00ff00"/>
<rect x="436" y="667" width="3" height="9" fill="#00ff00"/>
<rect x="452" y="668" width="3" height="8" fill="#00ff00"/>
<rect x="468" y="666" width="3" height="10" fill="#00ff00"/>
<rect x="484" y="670" width="3" height="6" fill="#00ff00"/>
<rect x="500" y="667" width="3" height="9" fill="#00ff00"/>
<rect x="516" y="666" width="3" height="10" fill="#00ff00"/>
<rect x="532" y="663" width="3" height="13" fill="#00ff00"/>
<rect x="548" y="660" width="3" height="16" fill="#00ff00"/>
<rect x="564" y="661" width="3" height="15" fill="#00ff00"/>
<rect x="580" y="661" width="3" height="15" fill="#00ff00"/>
<rect x="596" y="657" width="3" height="19" fill="#00ff00"/>
<rect x="612" y="654" width="3" height="22" fill="#00ff00"/>
<rect x="628" y="646" width="3" height="30" fill="#00ff00"/>
<rect x="644" y="638" width="3" height="38" fill="#00ff00"/>
<rect x="660" y="637" width="3" height="39" fill="#00ff00"/>
<rect x="676" y="639" width="3" height="37" fill="#00ff00"/>
<rect x="692" y="642" width="3" height="34" fill="#00ff00"/>
<rect x="708" y="643" width="3" height="33" fill="#00ff00"/>
<rect x="724" y="643" width="3" height="33" fill="#00ff00"/>
<rect x="740" y="642" width="3" height="34" fill="#00ff00"/>
<rect x="756" y="645" width="3" height="31" fill="#00ff00"/>
<rect x="772" y="646" width="3" height="30" fill="#00ff00"/>
<rect x="788" y="646" width="3" height="30" fill="#00ff00"/>
<rect x="804" y="646" width="3" height="30" fill="#00ff00"/>
<rect x="820" y="645" width="3" height="31" fill="#00ff00"/>
<rect x="836" y="645" width="3" height="31" fill="#00ff00"/>
<rect x="852" y="650" width="3" height="26" fill="#00ff00"/>
<rect x="868" y="649" width="3" height="27" fill="#00ff00"/>
<rect x="884" y="647" width="3" height="29" fill="#00ff00"/>
<rect x="900" y="643" width="3" height="33" fill="#00ff00"/>
<rect x="916" y="642" width="3" height="34" fill="#00ff00"/>
<rect x="932" y="641" width="3" height="35" fill="#00ff00"/>
<rect x="948" y="643" width="3" height="33" fill="#00ff00"/>
<rect x="964" y="652" width="3" height="24" fill="#00ff00"/>
<rect x="980" y="654" width="3" height="22" fill="#00ff00"/>
<rect x="996" y="655" width="3" height="21" fill="#00ff00"/>
<rect x="1012" y="660" width="3" height="16" fill="#00ff00"/>
<rect x="1028" y="663" width="3" height="13" fill="#00ff00"/>
<rect x="1044" y="665" width="3" height="11" fill="#00ff00"/>
<rect x="1060" y="673" width="3" height="3" fill="#00ff00"/>
<rect x="1076" y="674" width="3" height="2" fill="#00ff00"/>
<rect x="1092" y="675" width="3" height="1" fill="#00ff00"/>
<rect x="1108" y="676" width="3" height="1" fill="#00ff00"/>
<rect x="1124" y="676" width="3" height="4" fill="#00ff00"/>
<rect x="1140" y="675" width="3" height="1" fill="#00ff00"/>
<rect x="1156" y="676" width="3" height="1" fill="#00ff00"/>
<rect x="1172" y="676" width="3" height="5" fill="#00ff00"/>
<rect x="1188" y="676" width="3" height="8" fill="#00ff00"/>
<rect x="1204" y="676" width="3" height="11" fill="#00ff00"/>
<rect x="1220" y="676" width="3" height="13" fill="#00ff00"/>
<rect x="1236" y="676" width="3" height="16" fill="#00ff00"/>
<rect x="1252" y="676" width="3" height="14" fill="#00ff00"/>
<rect x="1268" y="676" width="3" height="12" fill="#00ff00"/>
<rect x="1284" y="676" width="3" height="11" fill="#00ff00"/>
<rect x="1300" y="676" width="3" height="10" fill="#00ff00"/>
<rect x="1316" y="676" width="3" height="6" fill="#00ff00"/>
<rect x="1332" y="676" width="3" height="2" fill="#00ff00"/>
<rect x="1348" y="669" width="3" height="7" fill="#00ff00"/>
<rect x="1364" y="655" width="3" height="21" fill="#00ff00"/>
<rect x="1380" y="643" width="3" height="33" fill="#00ff00"/>
<polyline points="5,611.7 21,610.9 37,610 53,608.4 69,606.7 85,604.5 101,603.3 117,602.2 133,601.3 149,600.3 165,600.1 181,602.2 197,605 213,608.4 229,610.9 245,614.3 261,617.3 277,620 293,624 309,629.4 325,633.6 341,638.2 357,642.4 373,646.6 389,649.6 405,653.5 421,656.3 437,659.3 453,661.4 469,663.4 485,664.9 501,664.9 517,665.9 533,665.9 549,665.9 565,665.2 581,664.9 597,663 613,662.4 629,659 645,656.3 661,653.3 677,650.1 693,648.4 709,646.2 725,644 741,643.2 757,642.4 773,642.9 789,642.9 805,643.2 821,644.5 837,644.9 853,645.9 869,645.9 885,645.9 901,645.9 917,645.9 933,645.5 949,644.9 965,646.6 981,646.9 997,647.4 1013,648.2 1029,650.4 1045,653.5 1061,656.3 1077,660.5 1093,663 1109,666.1 1125,669.4 1141,671.5 1157,673.5 1173,675.7 1189,677.3 1205,678.2 1221,680.2 1237,681.5 1253,683.6 1269,684.6 1285,685.4 1301,685.7 1317,685.7 1333,685.7 1349,683.9 1365,678.7 1381,675.4" fill="none" stroke="#ff0000" stroke-width="2" stroke-linejoin="round"/>
<text x="9.6" y="599.1" font-size="10" fill="#000" stroke="#000" stroke-width="0.3" textLength="147.3" lengthAdjust="spacingAndGlyphs">MACD(12,26,9) 0.001856 0.000094</text>
<text x="1621.3" y="597.4" font-size="10" fill="#000" stroke="#000" stroke-width="0.3" textLength="37.7" lengthAdjust="spacingAndGlyphs">0.004972</text>
<rect x="1618" y="676" width="2" height="1" fill="#000"/>
<text x="1621.3" y="680.2" font-size="10" fill="#000" stroke="#000" stroke-width="0.3" textLength="18.5" lengthAdjust="spacingAndGlyphs">0.00</text>
<text x="1621.3" y="693.6" font-size="10" fill="#000" stroke="#000" stroke-width="0.3" textLength="40.6" lengthAdjust="spacingAndGlyphs">-0.001063</text>
</g>
<g id="rsi">
<rect x="4" y="698" width="1616" height="1" fill="#000"/>
<rect x="4" y="698" width="1" height="111" fill="#000"/>
<rect x="1617" y="698" width="1" height="111" fill="#000"/>
<rect x="4" y="808" width="1616" height="1" fill="#000"/>
<path d="M6 721.5H1617" stroke="#000" stroke-width="1" stroke-dasharray="3 3" fill="none"/>
<path d="M6 753.5H1617" stroke="#000" stroke-width="1" stroke-dasharray="3 3" fill="none"/>
<path d="M6 791.5H1617" stroke="#000" stroke-width="1" stroke-dasharray="3 3" fill="none"/>
<polyline points="5,726.3 21,721.2 37,720.9 53,725.9 69,725.9 85,738.5 101,736.4 117,736 133,737.7 149,732.7 165,741.4 181,742.2 197,743.6 213,744.8 229,743.1 245,743.9 261,743.1 277,743.2 293,753.7 309,755.7 325,757.4 341,760.7 357,746.5 373,748.6 389,745.9 405,754.9 421,754.9 437,754.9 453,752.3 469,749 485,756.9 501,746.8 517,746.8 533,746.8 549,745.8 565,749.8 581,748.6 597,743.1 613,741.4 629,734.2 645,732.7 661,742.2 677,747.6 693,747.6 709,745.9 725,745.3 741,742.8 757,748.6 773,747 789,745.1 805,743.1 821,741.4 837,747 853,752.3 869,743.1 885,741.4 901,739.7 917,741.7 933,740.9 949,745.9 965,759.1 981,751 997,751 1013,754.9 1029,754.9 1045,754 1061,762.9 1077,754.9 1093,754.9 1109,755.7 1125,756.9 1141,749 1157,754.4 1173,759.9 1189,759.9 1205,759.9 1221,760.2 1237,761.9 1253,755.2 1269,754.9 1285,754.9 1301,754.9 1317,749.4 1333,745.2 1349,739.5 1365,729.3 1381,728.9" fill="none" stroke="#1e90ff" stroke-width="2" stroke-linejoin="round"/>
<text x="9.6" y="711.1" font-size="10" fill="#000" stroke="#000" stroke-width="0.3" textLength="67.3" lengthAdjust="spacingAndGlyphs">RSI(14) 73.1188</text>
<text x="1621.2" y="709.4" font-size="10" fill="#000" stroke="#000" stroke-width="0.3" textLength="15" lengthAdjust="spacingAndGlyphs">100</text>
<rect x="1618" y="721" width="2" height="1" fill="#000"/>
<text x="1621.2" y="725.4" font-size="10" fill="#000" stroke="#000" stroke-width="0.3" textLength="9.8" lengthAdjust="spacingAndGlyphs">80</text>
<rect x="1618" y="753" width="2" height="1" fill="#000"/>
<text x="1621.2" y="757.4" font-size="10" fill="#000" stroke="#000" stroke-width="0.3" textLength="9.8" lengthAdjust="spacingAndGlyphs">50</text>
<rect x="1618" y="791" width="2" height="1" fill="#000"/>
<text x="1621.2" y="795.3" font-size="10" fill="#000" stroke="#000" stroke-width="0.3" textLength="9.8" lengthAdjust="spacingAndGlyphs">15</text>
<text x="1621.2" y="805.4" font-size="10" fill="#000" stroke="#000" stroke-width="0.3" textLength="4.8" lengthAdjust="spacingAndGlyphs">0</text>
</g>
<g id="taxis">
<rect x="5" y="809" width="1" height="3" fill="#000"/>
<text x="4.5" y="821" font-size="10" fill="#000" stroke="#000" stroke-width="0.3" textLength="50" lengthAdjust="spacingAndGlyphs">12 Jan 2023</text>
<rect x="69" y="809" width="1" height="3" fill="#000"/>
<text x="68.5" y="821" font-size="10" fill="#000" stroke="#000" stroke-width="0.3" textLength="52" lengthAdjust="spacingAndGlyphs">13 Jan 04:00</text>
<rect x="133" y="809" width="1" height="3" fill="#000"/>
<text x="132.5" y="821" font-size="10" fill="#000" stroke="#000" stroke-width="0.3" textLength="52" lengthAdjust="spacingAndGlyphs">15 Jan 23:00</text>
<rect x="197" y="809" width="1" height="3" fill="#000"/>
<text x="196.5" y="821" font-size="10" fill="#000" stroke="#000" stroke-width="0.3" textLength="52" lengthAdjust="spacingAndGlyphs">16 Jan 12:00</text>
<rect x="261" y="809" width="1" height="3" fill="#000"/>
<text x="260.5" y="821" font-size="10" fill="#000" stroke="#000" stroke-width="0.3" textLength="52" lengthAdjust="spacingAndGlyphs">17 Jan 04:00</text>
<rect x="325" y="809" width="1" height="3" fill="#000"/>
<text x="324.5" y="821" font-size="10" fill="#000" stroke="#000" stroke-width="0.3" textLength="52" lengthAdjust="spacingAndGlyphs">17 Jan 20:00</text>
<rect x="389" y="809" width="1" height="3" fill="#000"/>
<text x="388.5" y="821" font-size="10" fill="#000" stroke="#000" stroke-width="0.3" textLength="52" lengthAdjust="spacingAndGlyphs">18 Jan 12:00</text>
<rect x="453" y="809" width="1" height="3" fill="#000"/>
<text x="452.5" y="821" font-size="10" fill="#000" stroke="#000" stroke-width="0.3" textLength="52" lengthAdjust="spacingAndGlyphs">19 Jan 04:00</text>
<rect x="517" y="809" width="1" height="3" fill="#000"/>
<text x="516.5" y="821" font-size="10" fill="#000" stroke="#000" stroke-width="0.3" textLength="52" lengthAdjust="spacingAndGlyphs">19 Jan 20:00</text>
<rect x="581" y="809" width="1" height="3" fill="#000"/>
<text x="580.5" y="821" font-size="10" fill="#000" stroke="#000" stroke-width="0.3" textLength="52" lengthAdjust="spacingAndGlyphs">20 Jan 12:00</text>
<rect x="645" y="809" width="1" height="3" fill="#000"/>
<text x="644.5" y="821" font-size="10" fill="#000" stroke="#000" stroke-width="0.3" textLength="52" lengthAdjust="spacingAndGlyphs">23 Jan 04:00</text>
<rect x="709" y="809" width="1" height="3" fill="#000"/>
<text x="708.5" y="821" font-size="10" fill="#000" stroke="#000" stroke-width="0.3" textLength="52" lengthAdjust="spacingAndGlyphs">23 Jan 20:00</text>
<rect x="773" y="809" width="1" height="3" fill="#000"/>
<text x="772.5" y="821" font-size="10" fill="#000" stroke="#000" stroke-width="0.3" textLength="52" lengthAdjust="spacingAndGlyphs">24 Jan 12:00</text>
<rect x="837" y="809" width="1" height="3" fill="#000"/>
<text x="836.5" y="821" font-size="10" fill="#000" stroke="#000" stroke-width="0.3" textLength="52" lengthAdjust="spacingAndGlyphs">25 Jan 04:00</text>
<rect x="901" y="809" width="1" height="3" fill="#000"/>
<text x="900.5" y="821" font-size="10" fill="#000" stroke="#000" stroke-width="0.3" textLength="52" lengthAdjust="spacingAndGlyphs">25 Jan 20:00</text>
<rect x="965" y="809" width="1" height="3" fill="#000"/>
<text x="964.5" y="821" font-size="10" fill="#000" stroke="#000" stroke-width="0.3" textLength="52" lengthAdjust="spacingAndGlyphs">26 Jan 12:00</text>
<rect x="1029" y="809" width="1" height="3" fill="#000"/>
<text x="1028.5" y="821" font-size="10" fill="#000" stroke="#000" stroke-width="0.3" textLength="52" lengthAdjust="spacingAndGlyphs">27 Jan 04:00</text>
<rect x="1093" y="809" width="1" height="3" fill="#000"/>
<text x="1092.5" y="821" font-size="10" fill="#000" stroke="#000" stroke-width="0.3" textLength="52" lengthAdjust="spacingAndGlyphs">29 Jan 23:00</text>
<rect x="1157" y="809" width="1" height="3" fill="#000"/>
<text x="1156.5" y="821" font-size="10" fill="#000" stroke="#000" stroke-width="0.3" textLength="52" lengthAdjust="spacingAndGlyphs">30 Jan 12:00</text>
<rect x="1221" y="809" width="1" height="3" fill="#000"/>
<text x="1220.5" y="821" font-size="10" fill="#000" stroke="#000" stroke-width="0.3" textLength="52" lengthAdjust="spacingAndGlyphs">31 Jan 04:00</text>
<rect x="1285" y="809" width="1" height="3" fill="#000"/>
<text x="1284.5" y="821" font-size="10" fill="#000" stroke="#000" stroke-width="0.3" textLength="52" lengthAdjust="spacingAndGlyphs">31 Jan 20:00</text>
<rect x="1349" y="809" width="1" height="3" fill="#000"/>
<text x="1348.5" y="821" font-size="10" fill="#000" stroke="#000" stroke-width="0.3" textLength="49.3" lengthAdjust="spacingAndGlyphs">1 Feb 12:00</text>
</g>
</svg>
</body></html>
